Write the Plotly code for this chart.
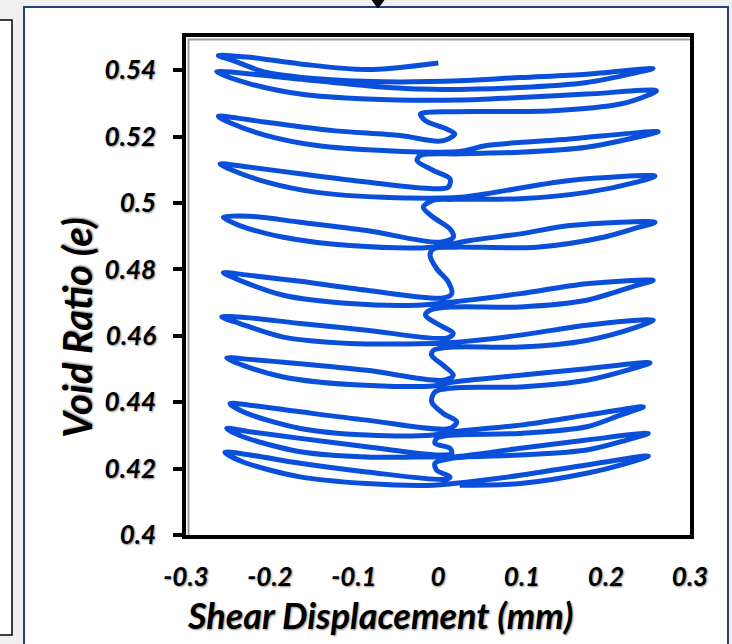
import plotly.graph_objects as go

# Shear displacement (mm) and void ratio, cycle by cycle
disp_top = [0.0004, -0.085, -0.164, -0.224, -0.2615, -0.244, -0.204, -0.144, -0.065, 0.026, 0.098, 0.177, 0.256,
            0.2365, 0.177, 0.098, -0.021, -0.085, -0.184, -0.2635, -0.224, -0.164, -0.085, 0.026, 0.098, 0.177, 0.260,
            0.2485, 0.217, 0.137, 0.018, -0.013, -0.021, -0.015, 0.0104, 0.020, 0.0123, 0.0004]
void_top = [0.5422, 0.5402, 0.5419, 0.5439, 0.5444, 0.5429, 0.5393, 0.5374, 0.5365, 0.5368, 0.5378, 0.5388, 0.5405,
            0.5393, 0.5363, 0.5348, 0.5343, 0.5353, 0.5378, 0.5395, 0.5359, 0.5328, 0.5313, 0.5310, 0.5318, 0.5328, 0.5338,
            0.5323, 0.5298, 0.5278, 0.5275, 0.5273, 0.5268, 0.5248, 0.5223, 0.5208, 0.5193, 0.5186]

disp_b = [-0.045, -0.125, -0.204, -0.2615, -0.244, -0.204, -0.144, -0.065, 0.026, 0.058, 0.157, 0.262, 0.2365, 0.177,
          0.098, 0.026, -0.021, -0.025, -0.0056, 0.0143, 0.0123, -0.0056]
void_b = [0.5203, 0.5218, 0.5243, 0.5261, 0.5238, 0.5203, 0.5173, 0.5158, 0.5155, 0.5173, 0.5193, 0.5215, 0.5198, 0.5168,
          0.5153, 0.5148, 0.5143, 0.5128, 0.5098, 0.5073, 0.5048, 0.5043]

disp_c = [-0.085, -0.164, -0.224, -0.2595, -0.244, -0.204, -0.144, -0.065, 0.026, 0.058, 0.157, 0.2583, 0.2365, 0.177,
          0.098, 0.018, -0.006, -0.0175, -0.0056, 0.0143, 0.0182, 0.0024]
void_c = [0.5063, 0.5088, 0.5108, 0.5118, 0.5098, 0.5063, 0.5032, 0.5017, 0.5017, 0.5028, 0.5068, 0.5081, 0.5063, 0.5032,
          0.5013, 0.5011, 0.5008, 0.4987, 0.4957, 0.4922, 0.4897, 0.4882]

disp_d = [-0.085, -0.164, -0.224, -0.2556, -0.236, -0.184, -0.105, -0.0056, 0.038, 0.098, 0.157, 0.2583, 0.2365, 0.197,
          0.1175, 0.018, -0.0056, -0.0095, -0.0015, 0.0123, 0.0163, 0.0063]
void_d = [0.4917, 0.4942, 0.4960, 0.4957, 0.4932, 0.4897, 0.4872, 0.4867, 0.4887, 0.4907, 0.4932, 0.4942, 0.4925, 0.4897,
          0.4867, 0.4867, 0.4862, 0.4842, 0.4802, 0.4762, 0.4727, 0.4714]

disp_e = [-0.085, -0.164, -0.224, -0.2556, -0.236, -0.184, -0.105, -0.025, 0.018, 0.098, 0.177, 0.2563, 0.2365, 0.177,
          0.098, 0.018, -0.0095, -0.015, -0.0015, 0.0182, 0.0104]
void_e = [0.4737, 0.4764, 0.4782, 0.4790, 0.4767, 0.4722, 0.4697, 0.4692, 0.4702, 0.4727, 0.4757, 0.4767, 0.4752, 0.4707,
          0.4687, 0.4687, 0.4677, 0.4662, 0.4637, 0.4607, 0.4593]

disp_f = [-0.085, -0.164, -0.224, -0.2575, -0.236, -0.184, -0.105, -0.0056, 0.018, 0.098, 0.177, 0.2563, 0.2365, 0.177,
          0.098, 0.018, -0.0056, -0.0075, 0.0063, 0.0182, 0.0063]
void_f = [0.4617, 0.4637, 0.4654, 0.4657, 0.4637, 0.4596, 0.4577, 0.4577, 0.4580, 0.4602, 0.4632, 0.4647, 0.4626, 0.4586,
          0.4566, 0.4566, 0.4556, 0.4541, 0.4511, 0.4481, 0.4466]

disp_g = [-0.085, -0.164, -0.224, -0.2515, -0.232, -0.184, -0.105, -0.0056, 0.018, 0.098, 0.177, 0.2524, 0.2246, 0.177,
          0.098, 0.018, -0.0036, -0.0075, 0.0063, 0.0223, 0.0143]
void_g = [0.4496, 0.4516, 0.4529, 0.4533, 0.4511, 0.4476, 0.4453, 0.4449, 0.4461, 0.4481, 0.4501, 0.4519, 0.4496, 0.4466,
          0.4446, 0.4443, 0.4431, 0.4401, 0.4366, 0.4341, 0.4321]

disp_h = [-0.085, -0.164, -0.224, -0.2476, -0.232, -0.164, -0.085, -0.0056, 0.018, 0.098, 0.177, 0.2444, 0.217, 0.177,
          0.098, 0.018, -0.0015, -0.0036, 0.0143, 0.0163, 0.0024]
void_h = [0.4346, 0.4371, 0.4391, 0.4396, 0.4371, 0.4321, 0.4301, 0.4301, 0.4311, 0.4331, 0.4361, 0.4386, 0.4361, 0.4326,
          0.4306, 0.4301, 0.4291, 0.4276, 0.4261, 0.4246, 0.4241]

disp_i = [-0.085, -0.164, -0.224, -0.2515, -0.232, -0.164, -0.085, -0.0056, 0.018, 0.098, 0.177, 0.2504, 0.2246, 0.177,
          0.098, 0.018, -0.0036, -0.0015, 0.0143, 0.0104]
void_i = [0.4266, 0.4291, 0.4311, 0.4321, 0.4296, 0.4251, 0.4235, 0.4235, 0.4235, 0.4261, 0.4286, 0.4306, 0.4286, 0.4256,
          0.4241, 0.4232, 0.4216, 0.4195, 0.4175, 0.4168]

disp_j = [-0.085, -0.164, -0.224, -0.2536, -0.232, -0.164, -0.085, -0.0056, 0.018, 0.098, 0.177, 0.2504, 0.2246, 0.177,
          0.098, 0.026]
void_j = [0.4190, 0.4216, 0.4241, 0.4249, 0.4220, 0.4175, 0.4155, 0.4150, 0.4155, 0.4180, 0.4211, 0.4238, 0.4216, 0.4186,
          0.4155, 0.4150]

x_ticks = [-0.3, -0.2, -0.1, 0, 0.1, 0.2, 0.3]
x_tick_text = ["-0.3", "-0.2", "-0.1", "0", "0.1", "0.2", "0.3"]
y_ticks = [0.4, 0.42, 0.44, 0.46, 0.48, 0.5, 0.52, 0.54]
y_tick_text = ["0.4", "0.42", "0.44", "0.46", "0.48", "0.5", "0.52", "0.54"]

shear_displacement = (disp_top + disp_b + disp_c + disp_d + disp_e + disp_f + disp_g + disp_h + disp_i + disp_j)
void_ratio = (void_top + void_b + void_c + void_d + void_e + void_f + void_g + void_h + void_i + void_j)

W, H = 732, 644
L, R, T, B = 186, 690, 37, 535


def px(xp):
    return (xp - L) / (R - L)


def py(yp):
    return (B - yp) / (B - T)


SHADOW = "1px 1px 2px rgba(0,0,0,0.45)"
tick_font = dict(family="Lato", size=26, color="black", weight="bold", style="italic", shadow=SHADOW)
title_font = dict(family="Lato", size=36, color="black", weight="bold", style="italic", shadow=SHADOW)
ytitle_font = dict(title_font, size=40)

fig = go.Figure()
fig.add_trace(go.Scatter(
    x=shear_displacement, y=void_ratio, mode="lines",
    line=dict(color="#0a4fd9", width=5, shape="spline", smoothing=0.9),
    showlegend=False, hoverinfo="skip",
))

shapes = [
    # main white panel with navy border
    dict(type="rect", xref="paper", yref="paper", x0=px(24), x1=px(728), y0=py(700), y1=py(7),
         fillcolor="white", line=dict(color="#23407a", width=2), layer="below"),
    # neighbouring panel on the left
    dict(type="rect", xref="paper", yref="paper", x0=px(-20), x1=px(12), y0=py(635), y1=py(20),
         fillcolor="white", line=dict(color="black", width=1.5), layer="below"),
    # frame shadow
    dict(type="rect", xref="paper", yref="paper", x0=px(L + 2.5), x1=px(R + 2.5), y0=py(B + 2.5), y1=py(T + 2.5),
         line=dict(color="#9c9c9c", width=2), layer="below"),
    # small arrow head at the top
    dict(type="path", xref="paper", yref="paper",
         path=f"M {px(372)},{py(0)} L {px(384)},{py(0)} L {px(378)},{py(8)} Z",
         fillcolor="black", line=dict(color="black", width=1)),
]

annotations = [
    dict(text="Shear Displacement (mm)", xref="paper", yref="paper", x=px(380), y=py(615),
         xanchor="center", yanchor="middle", showarrow=False, font=title_font),
    dict(text="Void Ratio (e)", xref="paper", yref="paper", x=px(77), y=py(328), textangle=-90,
         xanchor="center", yanchor="middle", showarrow=False, font=ytitle_font),
]

fig.update_layout(
    width=W, height=H,
    margin=dict(l=L, r=W - R, t=T, b=H - B),
    paper_bgcolor="#f0f0f0", plot_bgcolor="white",
    shapes=shapes, annotations=annotations,
    xaxis=dict(range=[-0.3, 0.3], tickvals=x_ticks, ticktext=x_tick_text, showgrid=False, zeroline=False,
               showline=True, linecolor="black", linewidth=3.5, mirror=True, ticks="",
               ticklabelstandoff=16, tickfont=tick_font),
    yaxis=dict(range=[0.4, 0.55], tickvals=y_ticks, ticktext=y_tick_text, showgrid=False, zeroline=False,
               showline=True, linecolor="black", linewidth=3.5, mirror=True, ticks="outside", ticklen=9,
               tickwidth=4, tickcolor="black", ticklabelstandoff=12, tickfont=tick_font),
)

fig.write_html("out.html", config={"displayModeBar": False},
               post_script="document.body.style.margin='0';document.body.style.background='#f0f0f0';")
